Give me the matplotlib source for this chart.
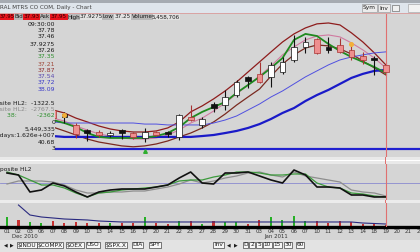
import numpy as np
import matplotlib.pyplot as plt
from matplotlib.patches import Rectangle

W, H = 420, 252

# trading days shown on the time axis (Dec 2010 - Jan 2011, plus 3 future days)
dates = ['01', '02', '03', '06', '07', '08', '09', '10', '13', '14', '15', '16', '17',
         '20', '21', '22', '23', '27', '28', '29', '30', '31', '03', '04', '05', '06',
         '07', '10', '11', '12', '13', '14', '18', '19', '20', '21', '24']

opens = [35.26, 35.60, 35.15, 35.20, 35.26, 35.03, 34.41, 34.12, 34.01, 33.84, 34.12, 33.95,
         33.67, 34.01, 34.01, 33.73, 34.86, 34.41, 35.60, 35.54, 36.11, 37.14, 37.31, 37.14,
         37.42, 38.10, 38.84, 39.29, 38.84, 38.95, 38.67, 38.33, 38.21, 37.82]
highs = [35.83, 35.66, 35.49, 35.54, 35.37, 35.15, 34.52, 34.18, 34.12, 34.07, 34.18, 34.01,
         34.24, 34.07, 34.07, 35.03, 35.54, 34.86, 35.71, 36.40, 36.96, 37.19, 37.99, 37.99,
         38.27, 39.52, 39.41, 39.35, 39.41, 39.35, 38.95, 38.56, 38.33, 37.93]
lows = [35.15, 34.98, 34.92, 35.03, 34.69, 34.52, 33.67, 33.50, 33.73, 33.73, 33.61, 33.61,
        33.44, 33.78, 33.73, 33.56, 34.63, 34.24, 35.15, 35.26, 36.00, 36.51, 36.79, 36.57,
        37.31, 37.99, 38.50, 38.44, 38.50, 38.50, 38.10, 37.87, 37.25, 37.25]
closes = [35.66, 35.09, 35.37, 35.37, 34.80, 34.86, 33.90, 33.95, 33.84, 33.95, 33.98, 33.73,
          34.01, 33.84, 33.90, 34.98, 34.69, 34.75, 35.37, 36.00, 36.85, 36.91, 36.85, 37.82,
          37.99, 38.84, 39.12, 38.50, 38.67, 38.56, 38.27, 38.10, 38.10, 37.42]

band_upper = [35.83, 35.71, 35.60, 35.43, 35.26, 35.09, 34.80, 34.58, 34.35, 34.18, 34.07, 34.01,
              34.01, 34.07, 34.24, 34.58, 35.15, 35.49, 35.89, 36.34, 36.85, 37.42, 37.99, 38.56,
              39.12, 39.58, 39.92, 40.15, 40.20, 40.09, 39.64, 39.12, 38.50, 37.82]
band_lower = [34.80, 34.69, 34.58, 34.41, 34.29, 34.07, 33.84, 33.61, 33.44, 33.33, 33.22, 33.17,
              33.22, 33.33, 33.50, 33.73, 33.95, 34.24, 34.58, 35.03, 35.54, 36.00, 36.45, 37.19,
              37.87, 38.39, 38.78, 38.95, 38.90, 38.73, 38.44, 38.04, 37.65, 37.25]
ma_green = [35.37, 35.26, 35.15, 34.92, 34.69, 34.52, 34.29, 33.95, 33.73, 33.67, 33.67, 33.67,
            33.67, 33.78, 33.95, 34.29, 34.80, 35.15, 35.43, 35.71, 36.23, 36.68, 37.14, 37.65,
            38.21, 39.24, 39.58, 39.46, 39.01, 38.61, 38.27, 37.99, 37.70, 37.36]
ma_pink = [35.26, 35.20, 35.09, 34.92, 34.80, 34.63, 34.35, 34.12, 33.90, 33.78, 33.67, 33.61,
           33.61, 33.67, 33.84, 34.12, 34.52, 34.80, 35.20, 35.66, 36.17, 36.68, 37.19, 37.76,
           38.39, 38.84, 39.24, 39.46, 39.52, 39.41, 39.07, 38.67, 38.21, 37.65]
ma_blue_thin = [34.80, 34.75, 34.69, 34.63, 34.58, 34.52, 34.52, 34.52, 34.52, 34.52, 34.52, 34.52,
                34.46, 34.46, 34.41, 34.41, 34.41, 34.41, 34.52, 34.69, 34.92, 35.26, 35.60, 36.00,
                36.34, 36.74, 37.14, 37.48, 37.82, 38.10, 38.27, 38.39, 38.50, 38.56]
ma_blue_thick = [33.78, 33.78, 33.78, 33.78, 33.78, 33.73, 33.73, 33.73, 33.73, 33.73, 33.73, 33.73,
                 33.73, 33.73, 33.73, 33.73, 33.73, 33.78, 33.84, 33.95, 34.07, 34.24, 34.46, 34.75,
                 35.09, 35.37, 35.77, 36.11, 36.40, 36.74, 37.08, 37.31, 37.48, 37.53]
level_line = 33.04

alert_idx = [5, 30]
alert_px = [34.95, 38.98]
signal_idx = [12]
signal_px = [32.95]

osc_black = [950, 760, -855, -665, 0, -285, -855, -1330, -855, -665, -570, -570, -570, -380, -190,
             475, 1045, 0, -95, 950, 950, 1045, 665, 285, 0, 1235, 760, -380, -380, -475, -1140,
             -1140, -1330, -1322.5]
osc_green = [1045, 760, 285, -190, -190, -475, -950, -1330, -950, -855, -665, -570, -475, -380, -190,
             190, 285, 285, 570, 760, 1045, 1045, 950, 760, 760, 855, 855, 0, -380, -475, -950,
             -1045, -1235, -1330]
osc_grey = [-95, 190, 190, 190, 95, -190, -665, -950, -950, -855, -855, -760, -760, -570, -380,
            -95, 285, 0, 190, 475, 665, 950, 1045, 760, 570, 1045, 665, 475, 285, 95, -665,
            -855, -950, -1235]

# volume in millions of shares
volume = [32.5, 22.8, 16.3, 13.0, 19.5, 13.0, 16.3, 13.0, 13.0, 13.0, 13.0, 13.0, 32.5, 13.0, 9.8,
          19.5, 19.5, 9.8, 19.5, 16.3, 16.3, 9.8, 22.8, 32.5, 22.8, 35.8, 19.5, 19.5, 13.0, 19.5,
          16.3, 9.8, 13.0, 5.45]
volume_avg = [np.nan, 71.5, 39.0, 32.5, 29.3, 26.0, 24.4, 22.8, 19.5, 17.9, 16.3, 16.3, 16.3, 16.3,
              16.3, 16.3, 16.3, 16.3, 16.3, 16.3, 16.3, 16.3, 16.3, 16.3, 16.3, 16.3, 16.3, 16.3,
              16.3, 16.3, 16.3, 13.0, 11.4, 9.75]

BG = '#d5d5d5'
fig = plt.figure(figsize=(W / 100, H / 100), dpi=100)
fig.patch.set_facecolor(BG)


def frac(x0, y0, x1, y1):
    return [x0 / W, 1 - y1 / H, (x1 - x0) / W, (y1 - y0) / H]


def fill(x0, y0, x1, y1, color, ec='none', lw=0):
    fig.add_artist(Rectangle((x0 / W, 1 - y1 / H), (x1 - x0) / W, (y1 - y0) / H,
                             transform=fig.transFigure, fc=color, ec=ec, lw=lw, zorder=1))


def label(x, y, s, color='#1a1a1a', ha='left', size=4.6, **kw):
    fig.text(x / W, 1 - y / H, s, color=color, ha=ha, va='center', fontsize=size,
             zorder=10, **kw)


XL = (-7 / 11.48, 413 / 11.48)
x = np.arange(len(closes))

# ---- price panel
ax = fig.add_axes(frac(0, 14, 420, 157))
ax.set_facecolor(BG)
ax.set_xlim(*XL)
ax.set_ylim(32.59, 40.71)
ax.axis('off')

ax.plot(x, band_upper, color='#8e1c1c', lw=0.9, zorder=2)
ax.plot(x, band_lower, color='#7a2a20', lw=0.9, zorder=2)
ax.plot(x, ma_pink, color='#d07aa0', lw=0.8, zorder=2)
ax.plot(x, ma_blue_thin, color='#5050e0', lw=0.7, zorder=2)
ax.plot(x, ma_blue_thick, color='#1a1ac8', lw=1.6, zorder=2)
ax.plot(x, ma_green, color='#1f8a1f', lw=1.3, zorder=2)
ax.axhline(level_line, color='#2020d0', lw=1.6, zorder=2)

for i in range(len(closes)):
    o, h, l, c = opens[i], highs[i], lows[i], closes[i]
    gain = i == 0 or c >= closes[i - 1]
    edge = '#111111' if gain else '#a83232'
    face = 'white' if c > o else ('#111111' if gain else '#ee8f8f')
    ax.vlines(i, l, h, color=edge, lw=0.8, zorder=3)
    ax.bar(i, max(abs(c - o), 0.04), bottom=min(o, c), width=0.5, color=face,
           edgecolor=edge, lw=0.5, zorder=4)

ax.plot(alert_idx, alert_px, 'o', color='#f3b03a', ms=2.6, zorder=5)
ax.plot(signal_idx, signal_px, '^', color='#2fae2f', ms=2.6, zorder=5)
ax.axvline(33, color='#e07070', lw=0.8, zorder=3)
ax.axvspan(XL[0], (55 - 7) / 11.48, color=BG, zorder=6, lw=0)

# ---- oscillator panel
axo = fig.add_axes(frac(0, 164, 420, 200))
axo.set_facecolor(BG)
axo.set_xlim(*XL)
axo.set_ylim(-1615, 1805)
axo.axis('off')
axo.axhline(0, color='#8a8ad0', lw=0.6)
axo.plot(x, osc_grey, color='#8e8e8e', lw=0.9)
axo.plot(x, osc_green, color='#3c9a3c', lw=0.9)
axo.plot(x, osc_black, color='#111111', lw=1.2)
axo.axvline(33, color='#e07070', lw=0.8)

# ---- volume panel
axv = fig.add_axes(frac(0, 203, 420, 227))
axv.set_facecolor(BG)
axv.set_xlim(*XL)
axv.set_ylim(0, 78)
vcol = ['#25b025' if c > o else '#c83030' for o, c in zip(opens, closes)]
axv.bar(x, volume, width=0.18, color=vcol)
axv.plot(x, volume_avg, color='#2a2a80', lw=0.8)
axv.axhline(0, color='black', lw=2.4, clip_on=False)
axv.axvline(33, color='#e07070', lw=0.8)
for s in axv.spines.values():
    s.set_visible(False)
axv.set_yticks([])
axv.set_xticks(range(len(dates)))
axv.set_xticklabels(dates, fontsize=4.0, color='#333333')
axv.tick_params(axis='x', length=0, pad=1.4)

# panel separators, with the cursor line carried across them
fill(0, 157, 420, 164, '#e9e9e9')
fill(0, 160, 420, 161, '#ffffff')
fill(0, 200, 420, 203, '#ececec')
fill(385.4, 157, 386.3, 164, '#e07070')
fill(385.4, 200, 386.3, 203, '#e07070')

label(25, 236.5, 'Dec 2010', size=3.9, ha='center', color='#333333')
label(276, 236.5, 'Jan 2011', size=3.9, ha='center', color='#333333')

# ---- title bar
fill(0, 0, 420, 3, '#a6abb2')
fill(0, 3, 420, 13, '#dfe5ec')
fill(0, 13, 420, 14, '#d9a4a4')
label(0, 8, 'RAL MTRS CO COM, Daily - Chart', color='#404040', size=4.1)
fill(362, 4, 377, 12, '#ececec', ec='#888888', lw=0.4)
fill(378, 4, 390, 12, '#ececec', ec='#888888', lw=0.4)
fill(392, 5, 399, 11, '#f0f0f0', ec='#555555', lw=0.4)
fill(408, 4, 420, 12, '#f2f2f2', ec='#999999', lw=0.4)
label(369.5, 8, 'Sym', ha='center', size=4.2)
label(384, 8, 'Inv', ha='center', size=4.2)

# ---- quote row
fill(0, 14, 180, 20, '#e2e2e2')
for x0, x1 in [(0, 14), (23, 40), (50, 68)]:
    fill(x0, 14, x1, 20, '#e8141e')
for x0, x1 in [(14, 23), (40, 50), (68, 80), (102, 114), (131, 153)]:
    fill(x0, 14, x1, 20, '#b8b8b8')
label(7.3, 17, '37.95', ha='center', size=3.8, color='#2a0000')
label(18.5, 17, 'Bid', ha='center', size=4.1)
label(31.5, 17, '37.93', ha='center', size=4.1, color='#2a0000')
label(45, 17, 'Ask', ha='center', size=4.1)
label(59, 17, '37.95', ha='center', size=4.1, color='#2a0000')
label(74, 17, 'High', ha='center', size=4.1)
label(91, 17, '37.9275', ha='center', size=4.1)
label(108, 17, 'Low', ha='center', size=4.1)
label(122.5, 17, '37.25', ha='center', size=4.1)
label(142, 17, 'Volume', ha='center', size=4.1)
label(166, 17, '5,458,706', ha='center', size=4.1)

# ---- study values column
values = [(24, '09:30:00', '#1a1a1a'), (31, '37.78', '#1a1a1a'), (37, '37.46', '#1a1a1a'),
          (44, '37.9275', '#1a1a1a'), (51, '37.26', '#1a1a1a'), (57, '37.35', '#2e8f2e'),
          (64, '37.21', '#a04a3a'), (70, '37.87', '#8e2c2c'), (77, '37.54', '#5a4ab0'),
          (83, '37.72', '#3a3ac8'), (89, '38.09', '#3a3ac8'),
          (103, 'posite HL2:  -1322.5', '#1a1a1a'), (109, 'posite HL2:  -2767.5', '#8a8a8a'),
          (116, '38:          -2362', '#2e8f2e'), (123, '0', '#1a1a1a'),
          (129, '5,449,335', '#1a1a1a'), (136, 'me10 days:1.626e+007', '#1a1a1a'),
          (142, '40.68', '#1a1a1a'), (149, '3', '#1a1a1a')]
for yy, s, c in values:
    label(55, yy, s, color=c, ha='right', size=4.4)
label(0, 169, 'posite HL2', size=4.2)

# ---- bottom tab strip
fill(0, 240, 420, 252, '#e3e3e3')
label(4, 245, '◀', size=3.4)
label(10, 245, '▶', size=3.4)
tabs = [(27, '$INDU'), (50, '$COMPX'), (75, '$OEX'), (93, 'USO'), (116, '$SPX.X'),
        (137.5, 'DIA'), (155, 'SPY'), (218.5, 'Inv'), (245.5, 'D'), (252, '2'), (259, '5'),
        (267.5, '10'), (277.5, '15'), (288, '30'), (300, '60')]
for xx, s in tabs:
    label(xx, 245, s, ha='center', size=4.2,
          bbox=dict(boxstyle='square,pad=0.12', fc='#f7f7f7', ec='#444444', lw=0.5))
label(227, 245, '◀', size=3.4)
label(234, 245, '▶', size=3.4)

fig.savefig('out.png', dpi=100, facecolor=fig.get_facecolor())
